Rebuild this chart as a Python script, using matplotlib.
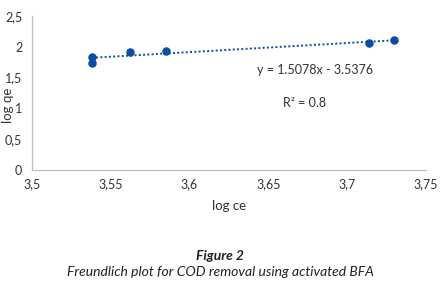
import numpy as np
import matplotlib.pyplot as plt
from matplotlib.ticker import FuncFormatter

plt.rcParams['font.family'] = ['Lato', 'DejaVu Sans']

# data
log_ce = [3.538, 3.538, 3.562, 3.585, 3.714, 3.730]
log_qe = [1.83, 1.74, 1.91, 1.93, 2.06, 2.11]
x_ticks = [3.5, 3.55, 3.6, 3.65, 3.7, 3.75]
y_ticks = [0, 0.5, 1, 1.5, 2, 2.5]
equation = "y = 1.5078x - 3.5376"
r_squared = "R² = 0.8"

blue = "#0B4DA2"
grey = "#BFBFBF"
txt = "#333333"

fig = plt.figure(figsize=(4.4, 2.91), dpi=100)
ax = fig.add_axes([0.0727, 0.416, 0.895, 0.529])

# trendline from a least squares fit
k, b = np.polyfit(log_ce, log_qe, 1)
xs = np.array([min(log_ce), max(log_ce)])
ax.plot(xs, k * xs + b, color=blue, linestyle=(0, (1, 1.2)), linewidth=1.4)
ax.scatter(log_ce, log_qe, s=26, color=blue, zorder=3)

ax.set_xlim(3.5, 3.75)
ax.set_ylim(0, 2.5)
ax.set_xticks(x_ticks)
ax.set_yticks(y_ticks)
comma = FuncFormatter(lambda v, p: f"{v:g}".replace(".", ","))
ax.xaxis.set_major_formatter(comma)
ax.yaxis.set_major_formatter(comma)
ax.tick_params(length=0, labelsize=9, colors=txt, pad=6)
ax.tick_params(axis='y', pad=7)

for s in ['top', 'right']:
    ax.spines[s].set_visible(False)
for s in ['left', 'bottom']:
    ax.spines[s].set_color(grey)
    ax.spines[s].set_linewidth(0.9)

ax.set_xlabel("log ce", fontsize=9.5, color=txt, labelpad=7)
ax.set_ylabel("log qe", fontsize=9.5, color=txt)
ax.yaxis.set_label_coords(-0.045, 0.42)

fig.text(315 / 440, 1 - 70 / 291, equation, fontsize=9, color=txt,
         ha='center', va='center')
fig.text(305 / 440, 1 - 103 / 291, r_squared, fontsize=9, color=txt,
         ha='center', va='center')

fig.text(0.5, 1 - 256 / 291, "Figure 2", fontsize=10, fontweight='bold',
         style='italic', color='#222222', ha='center', va='center')
fig.text(0.5, 1 - 272 / 291,
         "Freundlich plot for COD removal using activated BFA",
         fontsize=10, style='italic', color='#222222', ha='center', va='center')

fig.savefig("out.png", dpi=100)
